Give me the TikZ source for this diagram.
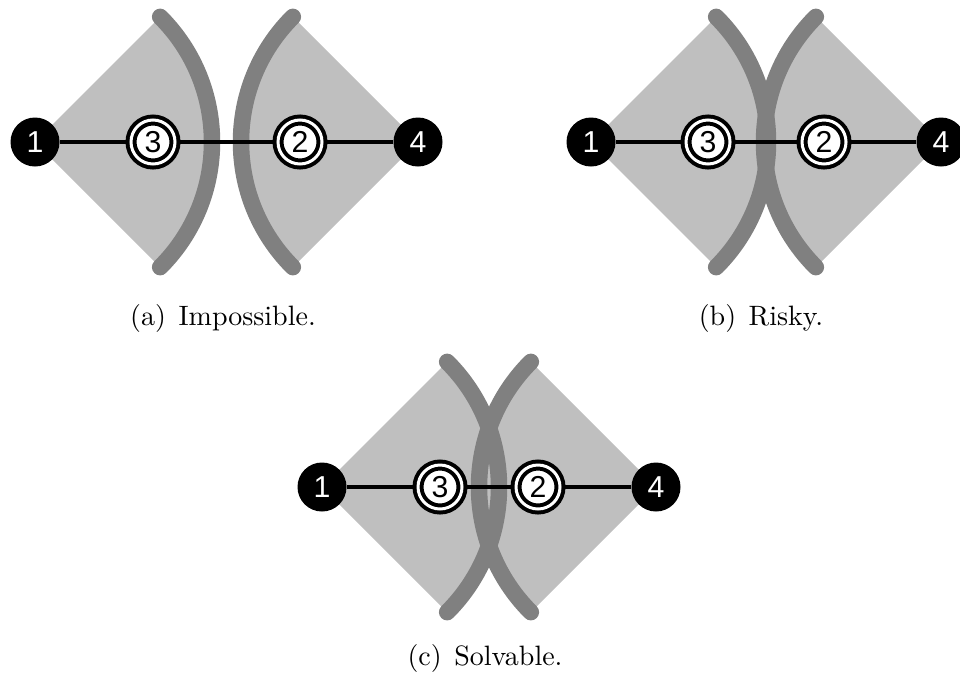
\documentclass[tikz,border=0pt]{standalone}
\usepackage{fontspec}
\newfontfamily\digitfont{Liberation Sans}
\newdimen\pxu \pxu=0.357pt
\newdimen\sectr \sectr=177\pxu
\definecolor{sectorgray}{gray}{0.75}
\definecolor{rimgray}{gray}{0.5}
\pgfdeclarelayer{shade}
\pgfdeclarelayer{wire}
\pgfsetlayers{shade,wire,main}
\begin{document}
\begin{tikzpicture}[x=\pxu,y=\pxu,
  terminal/.style={circle, fill=black, text=white, minimum size=49\pxu,
    inner sep=0pt, font={\digitfont\fontsize{10.8}{12}\selectfont}},
  relay/.style={circle, draw=black, double=white, line width=4\pxu,
    double distance=3\pxu, fill=white, minimum size=44\pxu, inner sep=0pt,
    font={\digitfont\fontsize{10.8}{12}\selectfont}},
  wire/.style={draw=black, line width=3.5\pxu},
  sector/.style={fill=sectorgray},
  rim/.style={draw=rimgray, line width=16.5\pxu, line cap=round},
  caption/.style={anchor=base, inner sep=0pt}]
\useasboundingbox (0,0) rectangle (960,676);

% three panels: outer terminals 1 and 4, relays 3 and 2 in between
\foreach \p/\xl/\xi/\xii/\xr/\yy in
  {a/35/153/300/418/534, b/591/708/824/941/534, c/322/440/538/656/189}{
  \node[terminal] (\p1) at (\xl,\yy) {1};
  \node[relay]    (\p3) at (\xi,\yy) {3};
  \node[relay]    (\p2) at (\xii,\yy) {2};
  \node[terminal] (\p4) at (\xr,\yy) {4};
  \begin{pgfonlayer}{shade}
    \fill[sector] (\p1.center) -- +(45:\sectr)
      arc[start angle=45, end angle=-45, radius=\sectr] -- cycle;
    \fill[sector] (\p4.center) -- +(135:\sectr)
      arc[start angle=135, end angle=225, radius=\sectr] -- cycle;
    \draw[rim] (\p1.center) ++(45:\sectr)
      arc[start angle=45, end angle=-45, radius=\sectr];
    \draw[rim] (\p4.center) ++(135:\sectr)
      arc[start angle=135, end angle=225, radius=\sectr];
  \end{pgfonlayer}
  \begin{pgfonlayer}{wire}
    \draw[wire] (\p1) -- (\p3);
    \draw[wire] (\p3) -- (\p2);
    \draw[wire] (\p2) -- (\p4);
  \end{pgfonlayer}
}

\node[caption] (capa) at (223,351) {(a)\hspace{0.45em}Impossible.};
\node[caption] (capb) at (761,351) {(b)\hspace{0.45em}Risky.};
\node[caption] (capc) at (485,11) {(c)\hspace{0.45em}Solvable.};
\end{tikzpicture}
\end{document}
